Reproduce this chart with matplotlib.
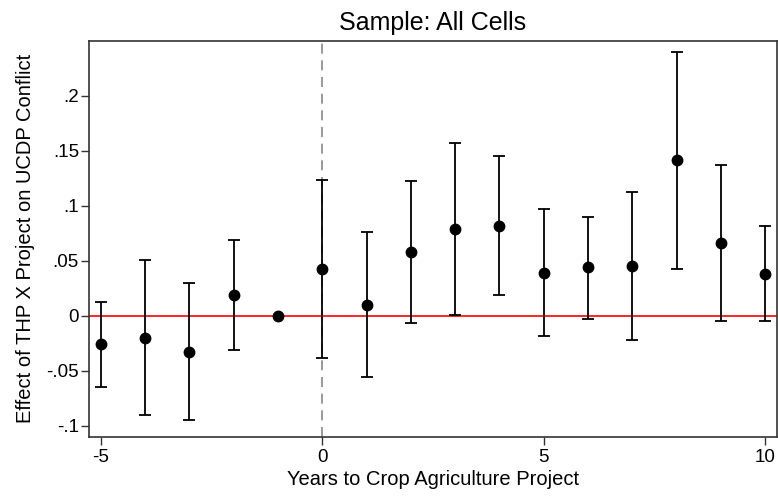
import numpy as np
import matplotlib.pyplot as plt

plt.rcParams['font.family'] = ['Liberation Sans', 'DejaVu Sans']
plt.rcParams['axes.unicode_minus'] = False

# event-study estimates
years = [-5, -4, -3, -2, -1, 0, 1, 2, 3, 4, 5, 6, 7, 8, 9, 10]
coef = [-0.026, -0.020, -0.033, 0.019, 0.0, 0.043, 0.010, 0.058,
        0.079, 0.082, 0.039, 0.044, 0.045, 0.142, 0.066, 0.038]
ci_hi = [0.013, 0.051, 0.030, 0.069, 0.0, 0.124, 0.076, 0.123,
         0.157, 0.145, 0.097, 0.090, 0.113, 0.240, 0.137, 0.082]
ci_lo = [-0.065, -0.090, -0.095, -0.031, 0.0, -0.038, -0.056, -0.007,
         0.001, 0.019, -0.018, -0.003, -0.022, 0.043, -0.005, -0.005]

xticks = [-5, 0, 5, 10]
yticks = [-0.1, -0.05, 0, 0.05, 0.1, 0.15, 0.2]
ylabels = ['-.1', '-.05', '0', '.05', '.1', '.15', '.2']

coef = np.array(coef)
err = np.vstack([coef - np.array(ci_lo), np.array(ci_hi) - coef])

fig = plt.figure(figsize=(7.78, 4.97), dpi=100)
ax = fig.add_axes([0.1148, 0.1213, 0.8835, 0.7962])

ax.axvline(0, color='#888888', linestyle=(0, (6, 4)), linewidth=1.2, zorder=1)
ax.axhline(0, color='#ff0000', linewidth=1.2, zorder=1)

has_ci = np.array(ci_hi) != np.array(ci_lo)
ax.errorbar(np.array(years)[has_ci], coef[has_ci], yerr=err[:, has_ci], fmt='none',
            ecolor='black', elinewidth=1.3, capsize=4.5, capthick=1.3, zorder=2)
ax.plot(years, coef, 'o', color='black', markersize=7.5, zorder=3)

ax.set_xlim(-5.26, 10.26)
ax.set_ylim(-0.110, 0.250)
ax.set_xticks(xticks)
ax.set_yticks(yticks)
ax.set_yticklabels(ylabels)
ax.tick_params(labelsize=13.5, length=5.5, width=1, direction='out', color='#333333')
ax.tick_params(axis='y', pad=2)
ax.tick_params(axis='x', pad=3)

for s in ax.spines.values():
    s.set_color('#333333')
    s.set_linewidth(1.2)

ax.set_title('Sample: All Cells', fontsize=18, pad=8)
ax.set_xlabel('Years to Crop Agriculture Project', fontsize=14.5, labelpad=3)
ax.set_ylabel('Effect of THP X Project on UCDP Conflict', fontsize=14.5, labelpad=8)

fig.savefig('out.png', dpi=100, facecolor='white')
